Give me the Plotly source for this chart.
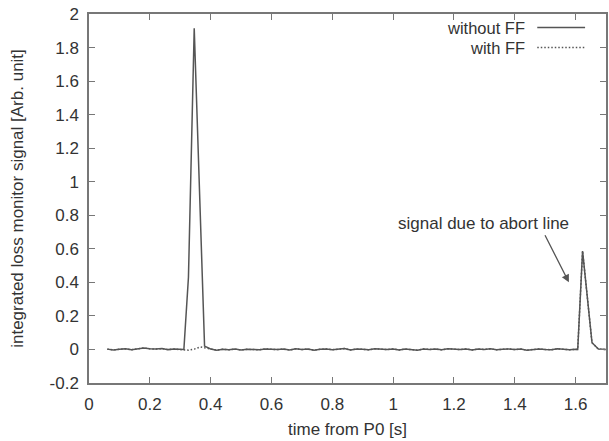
import plotly.graph_objects as go

# ---- data ----
t_pre = [0.06, 0.08, 0.10, 0.12, 0.14, 0.16, 0.18, 0.20, 0.22, 0.24, 0.26, 0.28, 0.30]
y_pre = [0.002, -0.003, 0.001, 0.004, -0.002, 0.003, 0.009, 0.004, 0.002, 0.005, -0.001, 0.002, 0.000]

t_peak1_without = [0.312, 0.327, 0.346, 0.380]
y_peak1_without = [0.000, 0.43, 1.915, 0.020]

t_peak1_with = [0.312, 0.327, 0.346, 0.366, 0.380]
y_peak1_with = [0.000, -0.004, 0.002, 0.015, 0.010]

t_post = [0.40, 0.42, 0.44, 0.46, 0.48, 0.50, 0.52, 0.54, 0.56, 0.58,
          0.60, 0.62, 0.64, 0.66, 0.68, 0.70, 0.72, 0.74, 0.76, 0.78,
          0.80, 0.82, 0.84, 0.86, 0.88, 0.90, 0.92, 0.94, 0.96, 0.98,
          1.00, 1.02, 1.04, 1.06, 1.08, 1.10, 1.12, 1.14, 1.16, 1.18,
          1.20, 1.22, 1.24, 1.26, 1.28, 1.30, 1.32, 1.34, 1.36, 1.38,
          1.40, 1.42, 1.44, 1.46, 1.48, 1.50, 1.52, 1.54, 1.56, 1.58,
          1.60]
y_post = [0.003, -0.004, 0.001, -0.002, 0.002, -0.003, 0.001, 0.000, -0.002, 0.003,
          0.001, -0.001, 0.002, -0.003, 0.004, 0.000, 0.002, -0.004, 0.001, 0.003,
          -0.002, 0.000, 0.005, -0.003, 0.002, 0.001, -0.002, 0.004, 0.000, -0.001,
          0.003, -0.003, 0.002, 0.001, -0.004, 0.003, 0.000, 0.002, -0.002, 0.004,
          0.001, -0.001, 0.003, -0.003, 0.002, 0.000, 0.004, -0.002, 0.001, 0.003,
          -0.001, 0.002, -0.004, 0.001, 0.003, 0.000, -0.002, 0.004, 0.001, -0.002,
          0.001]

t_peak2 = [1.607, 1.623, 1.654, 1.675, 1.700]
y_peak2 = [0.000, 0.587, 0.040, 0.002, 0.000]

y_ticks = [-0.2, 0, 0.2, 0.4, 0.6, 0.8, 1, 1.2, 1.4, 1.6, 1.8, 2]
y_ticktext = ["-0.2", "0", "0.2", "0.4", "0.6", "0.8", "1", "1.2", "1.4", "1.6", "1.8", "2"]
x_ticks = [0, 0.2, 0.4, 0.6, 0.8, 1, 1.2, 1.4, 1.6]
x_ticktext = ["0", "0.2", "0.4", "0.6", "0.8", "1", "1.2", "1.4", "1.6"]

series_names = ["without FF", "with FF"]

# ---- figure ----
FONT = "Liberation Sans, Arial, Helvetica, sans-serif"
LINE = "#555555"
TEXT = "#333333"
AX = "#777777"
DOT = "1.5px,2px"

t_without = t_pre + t_peak1_without + t_post + t_peak2
y_without = y_pre + y_peak1_without + y_post + y_peak2
t_with = t_pre + t_peak1_with + t_post + t_peak2
y_with = y_pre + y_peak1_with + y_post + y_peak2

fig = go.Figure()
fig.add_trace(go.Scatter(x=t_without, y=y_without, mode="lines", name=series_names[0],
                         line=dict(color=LINE, width=1.5)))
fig.add_trace(go.Scatter(x=t_with, y=y_with, mode="lines", name=series_names[1],
                         line=dict(color=LINE, width=1.5, dash=DOT)))

W, H = 609, 441
ML, MR, MT, MB = 89, 1, 14, 58
pw, ph = W - ML - MR, H - MT - MB

def px(xp):
    return (xp - ML) / pw

def py(yp):
    return (H - MB - yp) / ph

LEG_Y1, LEG_Y2 = 27.5, 47.5

shapes = [
    dict(type="line", xref="paper", yref="paper", x0=px(539), x1=px(587), y0=py(LEG_Y1), y1=py(LEG_Y1),
         line=dict(color=LINE, width=1.5)),
    dict(type="line", xref="paper", yref="paper", x0=px(539), x1=px(587), y0=py(LEG_Y2), y1=py(LEG_Y2),
         line=dict(color=LINE, width=1.5, dash=DOT)),
]
annotations = [
    dict(text=series_names[0], xref="paper", yref="paper", x=px(529), y=py(LEG_Y1), xanchor="right",
         yanchor="middle", showarrow=False, font=dict(family=FONT, size=16.5, color=TEXT)),
    dict(text=series_names[1], xref="paper", yref="paper", x=px(529), y=py(LEG_Y2), xanchor="right",
         yanchor="middle", showarrow=False, font=dict(family=FONT, size=16.5, color=TEXT)),
    dict(text="signal due to abort line", xref="x", yref="y", x=1.297, y=0.752,
         showarrow=False, font=dict(family=FONT, size=17, color=TEXT)),
    dict(text="", xref="x", yref="y", x=1.578, y=0.40, ax=1.497, ay=0.69,
         axref="x", ayref="y", showarrow=True, arrowhead=2, arrowsize=1.2,
         arrowwidth=1.3, arrowcolor=LINE),
]

axis_common = dict(showline=True, linecolor=AX, linewidth=1.5, mirror="ticks",
                   ticks="inside", ticklen=6, tickwidth=1.2, tickcolor=AX,
                   showgrid=False, zeroline=False,
                   tickfont=dict(family=FONT, size=17, color=TEXT))

fig.update_layout(
    width=W, height=H,
    margin=dict(l=ML, r=MR, t=MT, b=MB),
    paper_bgcolor="white", plot_bgcolor="white",
    showlegend=False,
    font=dict(family=FONT, size=17, color=TEXT),
    xaxis=dict(range=[0, 1.7], tickvals=x_ticks, ticktext=x_ticktext, ticklabelstandoff=5,
               title=dict(text="time from P0 [s]", font=dict(family=FONT, size=17, color=TEXT), standoff=10),
               **axis_common),
    yaxis=dict(range=[-0.2, 2.0], tickvals=y_ticks, ticktext=y_ticktext, ticklabelstandoff=5,
               title=dict(text="integrated loss monitor signal [Arb. unit]",
                          font=dict(family=FONT, size=17, color=TEXT), standoff=22),
               **axis_common),
    shapes=shapes,
    annotations=annotations,
)

fig.write_html("out.html")
